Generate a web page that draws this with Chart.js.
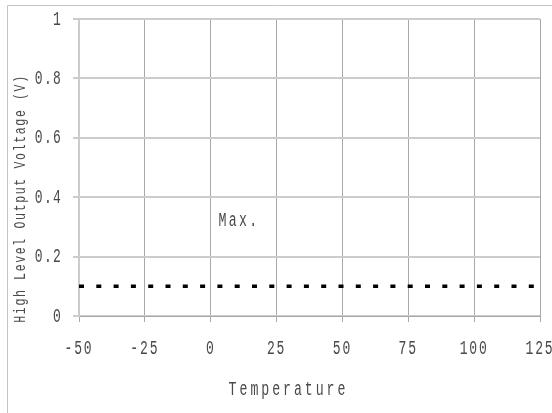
<!DOCTYPE html>
<html>
<head>
<meta charset="utf-8">
<script src="https://cdn.jsdelivr.net/npm/chart.js@4/dist/chart.umd.min.js"></script>
<style>
  html, body { margin: 0; padding: 0; background: #ffffff; }
  #wrap { width: 552px; height: 413px; }
</style>
</head>
<body>
<div id="wrap"><canvas id="c" width="552" height="413"></canvas></div>
<script>
// Temperature sweep (°C) and the max high-level output voltage (V)
const temperatures = [-50, -25, 0, 25, 50, 75, 100, 125];
const maxVoltage   = [0.1, 0.1, 0.1, 0.1, 0.1, 0.1, 0.1, 0.1];

// Tick values and their printed labels
const xTickValues = [-50, -25, 0, 25, 50, 75, 100, 125];
const xTickLabels = ['-50', '-25', '0', '25', '50', '75', '100', '125'];
const yTickValues = [0, 0.2, 0.4, 0.6, 0.8, 1];
const yTickLabels = ['0', '0.2', '0.4', '0.6', '0.8', '1'];

const xTitle = 'Temperature';
const yTitle = 'High Level Output Voltage (V)';
const seriesLabel = 'Max.';
const seriesLabelAt = { x: 3, y: 0.32 };

const TEXT_COLOR = '#4a4a4a';
const FONT_FAMILY = '"Liberation Mono", "DejaVu Sans Mono", monospace';

// Narrow, spaced text drawn straight onto the canvas
function drawText(ctx, text, x, y, opt) {
  ctx.save();
  ctx.translate(x, y);
  if (opt.rotate) ctx.rotate(opt.rotate);
  ctx.scale(opt.sx || 1, 1);
  ctx.font = opt.size + 'px ' + FONT_FAMILY;
  ctx.fillStyle = TEXT_COLOR;
  ctx.textAlign = opt.align || 'center';
  ctx.textBaseline = 'middle';
  if ('letterSpacing' in ctx) ctx.letterSpacing = (opt.ls || 0) + 'px';
  ctx.fillText(text, 0, 0);
  ctx.restore();
}

const frameAndText = {
  id: 'frameAndText',
  beforeDraw(chart) {
    const ctx = chart.ctx;
    ctx.save();
    ctx.strokeStyle = '#c4c4c4';
    ctx.lineWidth = 1;
    ctx.beginPath();
    ctx.moveTo(7.5, chart.height);
    ctx.lineTo(7.5, 5.5);
    ctx.lineTo(chart.width, 5.5);
    ctx.stroke();
    ctx.restore();
  },
  afterDraw(chart) {
    const ctx = chart.ctx;
    const xs = chart.scales.x, ys = chart.scales.y;
    const area = chart.chartArea;

    xTickValues.forEach((v, i) => {
      drawText(ctx, xTickLabels[i], xs.getPixelForValue(v), area.bottom + 32,
        { size: 21, sx: 0.62, ls: 3, align: 'center' });
    });
    yTickValues.forEach((v, i) => {
      drawText(ctx, yTickLabels[i], area.left - 17, ys.getPixelForValue(v),
        { size: 21, sx: 0.62, ls: 2, align: 'right' });
    });

    drawText(ctx, xTitle, (area.left + area.right) / 2 - 21, area.bottom + 74,
      { size: 20, sx: 0.66, ls: 4.5, align: 'center' });
    drawText(ctx, yTitle, 20, (area.top + area.bottom) / 2 + 31,
      { size: 17, sx: 0.68, ls: 2.4, align: 'center', rotate: -Math.PI / 2 });

    drawText(ctx, seriesLabel, xs.getPixelForValue(seriesLabelAt.x), ys.getPixelForValue(seriesLabelAt.y),
      { size: 20, sx: 0.66, ls: 3.5, align: 'left' });
  }
};

new Chart(document.getElementById('c'), {
  type: 'line',
  data: {
    datasets: [{
      label: seriesLabel,
      data: temperatures.map((t, i) => ({ x: t, y: maxVoltage[i] })),
      borderColor: '#000000',
      borderWidth: 3.5,
      borderDash: [5, 12.3],
      borderCapStyle: 'butt',
      pointRadius: 0,
      fill: false,
      tension: 0
    }]
  },
  options: {
    responsive: false,
    animation: false,
    devicePixelRatio: 1,
    layout: { padding: { top: 19, right: 12, left: 0, bottom: 0 } },
    plugins: { legend: { display: false }, tooltip: { enabled: false } },
    scales: {
      x: {
        type: 'linear',
        min: -50, max: 125,
        afterBuildTicks(scale) { scale.ticks = xTickValues.map(v => ({ value: v })); },
        afterFit(scale) { scale.height = 97; },
        ticks: { display: false },
        grid: { color: '#a8a8a8', lineWidth: 1, tickLength: 6, drawTicks: true },
        border: { display: true, color: '#a8a8a8', width: 1 }
      },
      y: {
        type: 'linear',
        min: 0, max: 1,
        afterBuildTicks(scale) { scale.ticks = yTickValues.map(v => ({ value: v })); },
        afterFit(scale) { scale.width = 79; },
        ticks: { display: false },
        grid: { color: '#cccccc', lineWidth: 2, tickLength: 6, drawTicks: true },
        border: { display: true, color: '#cccccc', width: 2 }
      }
    }
  },
  plugins: [frameAndText]
});
</script>
</body>
</html>
